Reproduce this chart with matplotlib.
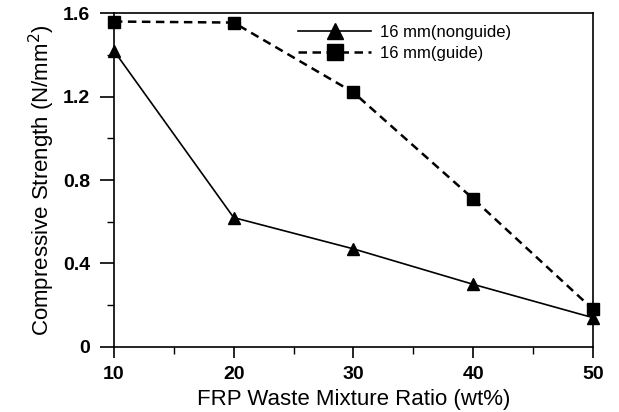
import matplotlib
matplotlib.use("Agg")
import matplotlib.pyplot as plt
from matplotlib.ticker import MultipleLocator

plt.rcParams['font.family'] = ['Liberation Sans', 'DejaVu Sans']

ratio = [10, 20, 30, 40, 50]
nonguide = [1.42, 0.62, 0.47, 0.30, 0.14]
guide = [1.56, 1.555, 1.22, 0.71, 0.18]

x_ticks = [10, 20, 30, 40, 50]
y_ticks = [0, 0.4, 0.8, 1.2, 1.6]
y_labels = ["0", "0.4", "0.8", "1.2", "1.6"]

fig = plt.figure(figsize=(6.19, 4.12), dpi=100)
ax = fig.add_axes([0.184, 0.158, 0.774, 0.81])

ax.plot(ratio, nonguide, color="black", linewidth=1.2, marker="^",
        markersize=9, label="16 mm(nonguide)", clip_on=False, zorder=3)
ax.plot(ratio, guide, color="black", linewidth=1.8, linestyle=(0, (3.4, 2.2)),
        marker="s", markersize=8.5, label="16 mm(guide)", clip_on=False, zorder=3)

ax.set_xlim(10, 50)
ax.set_ylim(0, 1.6)
ax.set_xticks(x_ticks)
ax.set_yticks(y_ticks)
ax.set_yticklabels(y_labels)
ax.xaxis.set_minor_locator(MultipleLocator(5))
ax.yaxis.set_minor_locator(MultipleLocator(0.2))

ax.tick_params(which="major", direction="out", width=1.2, labelsize=14)
ax.tick_params(axis="x", which="major", length=8, pad=6)
ax.tick_params(axis="y", which="major", length=10, pad=7)
ax.tick_params(which="minor", direction="out", length=5, width=1.0)
for lab in ax.get_xticklabels() + ax.get_yticklabels():
    lab.set_fontweight("bold")

for s in ax.spines.values():
    s.set_linewidth(1.2)

ax.set_xlabel("FRP Waste Mixture Ratio (wt%)", fontsize=16, labelpad=4)
ax.set_ylabel("Compressive Strength (N/mm$^2$)", fontsize=16, labelpad=4)

ax.legend(loc="upper right", bbox_to_anchor=(0.86, 1.01), frameon=False,
          fontsize=12, handlelength=4.4, markerscale=1.3, labelspacing=0.35,
          handletextpad=0.5)

fig.savefig("out.png", dpi=100)
